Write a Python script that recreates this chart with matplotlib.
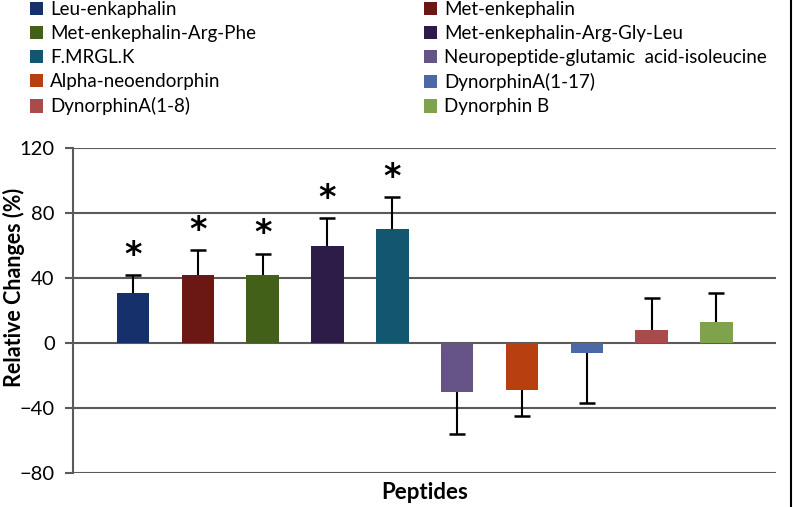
import numpy as np
import matplotlib.pyplot as plt
from matplotlib.patches import Patch
from matplotlib.lines import Line2D

plt.rcParams['font.family'] = ['Lato', 'DejaVu Sans']

# data
peptides = ['Leu-enkaphalin', 'Met-enkephalin', 'Met-enkephalin-Arg-Phe',
            'Met-enkephalin-Arg-Gly-Leu', 'F.MRGL.K',
            'Neuropeptide-glutamic  acid-isoleucine', 'Alpha-neoendorphin',
            'DynorphinA(1-17)', 'DynorphinA(1-8)', 'Dynorphin B']
changes = [31, 42, 42, 60, 70, -30, -29, -6, 8, 13]
errors = [11, 15, 13, 17, 20, 26, 16, 31, 20, 18]
significant = [True, True, True, True, True, False, False, False, False, False]
colors = ['#16306b', '#6b1714', '#436019', '#2d1b48', '#125670',
          '#675486', '#b73f10', '#4a69a6', '#a94a4b', '#7fa24c']
yticks = [-80, -40, 0, 40, 80, 120]

fig = plt.figure(figsize=(7.93, 5.07), dpi=100)
ax = fig.add_axes([0.0917, 0.0665, 0.887, 0.6415])

x = np.arange(len(changes))
vals = np.array(changes, dtype=float)
errs = np.array(errors, dtype=float)

# one sided error bars: up for positive, down for negative
lower = np.where(vals < 0, errs, 0)
upper = np.where(vals >= 0, errs, 0)
tips = np.where(vals >= 0, vals + errs, vals - errs)

ax.bar(x, vals, width=0.5, color=colors, zorder=3)
ax.errorbar(x, vals, yerr=[lower, upper], fmt='none', ecolor='black',
            elinewidth=1.5, capsize=0, zorder=2)
ax.plot(x, tips, ls='none', marker='_', ms=11, mew=1.8, color='black', zorder=2)

for xi, t, s in zip(x, tips, significant):
    if s:
        ax.text(xi, t + 2, '*', ha='center', va='bottom', fontsize=24,
                fontweight='bold', family='DejaVu Sans')

ax.set_xlim(-0.93, 9.92)
ax.set_ylim(-80, 120)
ax.set_yticks(yticks)
ax.set_xticks([])
ax.yaxis.grid(True, color='#5a5a5a', lw=1.5, zorder=0)
ax.tick_params(axis='y', labelsize=14.5, length=6, width=1.5, color='#5a5a5a', pad=7)
for s in ['top', 'right', 'bottom']:
    ax.spines[s].set_visible(False)
ax.spines['left'].set_color('#5a5a5a')
ax.spines['left'].set_linewidth(1.5)

# y label placed by its left edge so it stays inside the figure
fig.text(0.004, 0.433, 'Relative Changes (%)', rotation=90, ha='left',
         va='center', fontsize=15.5, fontweight='bold')
ax.set_xlabel('Peptides', fontsize=16, fontweight='bold', labelpad=6)

# legend in two columns, filled row by row
handles = [Patch(facecolor=c) for c in colors]
for k, xa in [(0, 0.028), (1, 0.525)]:
    fig.legend(handles[k::2], peptides[k::2], loc='upper left',
               bbox_to_anchor=(xa, 1.013), frameon=False, fontsize=13.5,
               handlelength=0.72, handleheight=0.72, handletextpad=0.35,
               labelspacing=0.38, borderaxespad=0)

fig.add_artist(Line2D([0.998, 0.998], [0, 1], color='black', lw=1.5,
                      transform=fig.transFigure))

fig.savefig('out.png', dpi=100)
